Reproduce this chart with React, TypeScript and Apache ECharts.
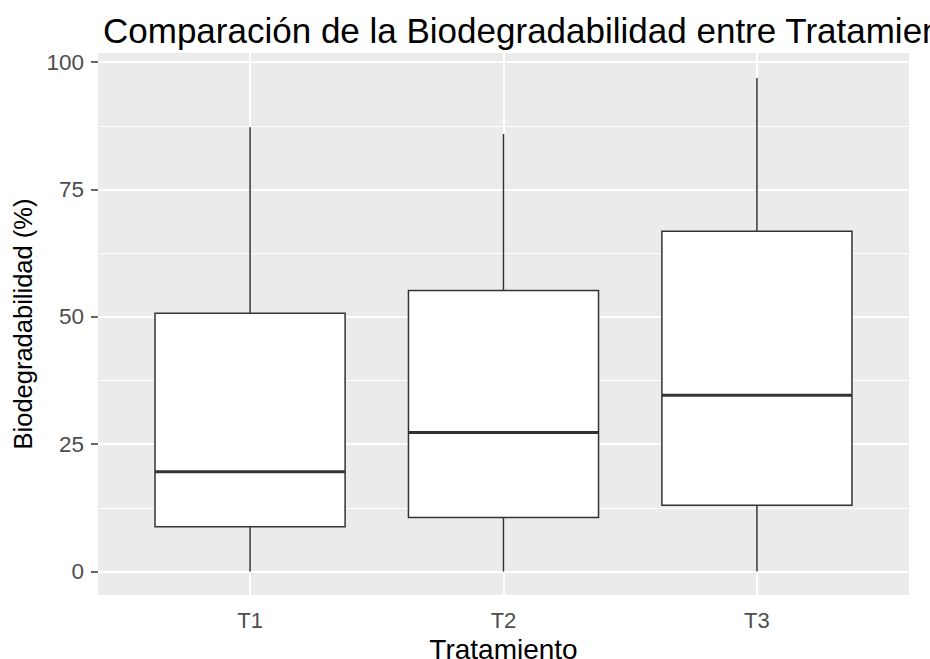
import React, { useEffect, useRef } from "react";
import * as echarts from "echarts";

const categories = ["T1", "T2", "T3"];
const categoryPositions = [1, 2, 3];
const whiskerLow = [0, 0, 0];
const q1 = [8.8, 10.6, 13.0];
const median = [19.6, 27.3, 34.6];
const q3 = [50.7, 55.2, 66.8];
const whiskerHigh = [87.2, 85.9, 96.9];
const yMajorTicks = [0, 25, 50, 75, 100];
const yMinorTicks = [12.5, 37.5, 62.5, 87.5];

const titleText = "Comparación de la Biodegradabilidad entre Tratamientos";
const xTitle = "Tratamiento";
const yTitle = "Biodegradabilidad (%)";

const FONT = "'Liberation Sans', Arial, sans-serif";

export default function App() {
  const ref = useRef<HTMLDivElement>(null);
  useEffect(() => {
    if (!ref.current) return;
    const chart = echarts.init(ref.current, null, { renderer: "svg" });
    const boxData = categories.map((_, i) => [
      categoryPositions[i],
      whiskerLow[i],
      q1[i],
      median[i],
      q3[i],
      whiskerHigh[i],
    ]);
    const stroke = "#333333";
    chart.setOption({
      animation: false,
      title: {
        text: titleText,
        left: 98,
        top: 8,
        textStyle: { fontFamily: FONT, fontSize: 35, fontWeight: "normal", color: "#000000" },
      },
      grid: {
        left: 98,
        right: 21,
        top: 53,
        bottom: 64,
        outerBoundsMode: "none",
        containLabel: false,
        show: true,
        backgroundColor: "#EBEBEB",
        borderWidth: 0,
      },
      xAxis: {
        type: "value",
        min: 0.4,
        max: 3.6,
        name: xTitle,
        nameLocation: "middle",
        nameGap: 35,
        nameTextStyle: { fontFamily: FONT, fontSize: 28, lineHeight: 28, color: "#000000" },
        axisLine: { show: false },
        splitLine: { show: false },
        axisTick: { show: true, customValues: categoryPositions, length: 7, lineStyle: { color: stroke, width: 1.5 } },
        axisLabel: {
          customValues: categoryPositions,
          margin: 14,
          fontFamily: FONT,
          fontSize: 22,
          color: "#4D4D4D",
          formatter: (v: number) => categories[Math.round(v) - 1] ?? "",
        },
      },
      yAxis: {
        type: "value",
        min: -4.6,
        max: 101.8,
        name: yTitle,
        nameLocation: "middle",
        nameGap: 58,
        nameTextStyle: { fontFamily: FONT, fontSize: 25.5, color: "#000000" },
        axisLine: { show: false },
        splitLine: { show: false },
        axisTick: { show: true, customValues: yMajorTicks, length: 7, lineStyle: { color: stroke, width: 1.5 } },
        axisLabel: {
          customValues: yMajorTicks,
          margin: 14,
          fontFamily: FONT,
          fontSize: 22.5,
          color: "#4D4D4D",
        },
      },
      series: [
        {
          type: "line",
          data: [],
          z: 1,
          silent: true,
          markLine: {
            silent: true,
            symbol: ["none", "none"],
            label: { show: false },
            animation: false,
            data: [
              ...yMinorTicks.map((v) => ({ yAxis: v, lineStyle: { color: "#FFFFFF", width: 1, type: "solid" } })),
              ...yMajorTicks.map((v) => ({ yAxis: v, lineStyle: { color: "#FFFFFF", width: 2, type: "solid" } })),
              ...categoryPositions.map((v) => ({ xAxis: v, lineStyle: { color: "#FFFFFF", width: 2, type: "solid" } })),
            ],
          },
        },
        {
          type: "custom",
          z: 5,
          data: boxData,
          encode: { x: 0, y: [1, 2, 3, 4, 5] },
          renderItem: (params: any, api: any) => {
            const x = api.value(0);
            const lo = api.value(1);
            const a = api.value(2);
            const m = api.value(3);
            const b = api.value(4);
            const hi = api.value(5);
            const half = api.size([0.75, 0])[0] / 2;
            const pLo = api.coord([x, lo]);
            const pA = api.coord([x, a]);
            const pM = api.coord([x, m]);
            const pB = api.coord([x, b]);
            const pHi = api.coord([x, hi]);
            const cx = pA[0];
            const lineStyle = { stroke, lineWidth: 1.5 };
            return {
              type: "group",
              children: [
                { type: "line", shape: { x1: cx, y1: pLo[1], x2: cx, y2: pA[1] }, style: lineStyle },
                { type: "line", shape: { x1: cx, y1: pB[1], x2: cx, y2: pHi[1] }, style: lineStyle },
                {
                  type: "rect",
                  shape: { x: cx - half, y: pB[1], width: half * 2, height: pA[1] - pB[1] },
                  style: { fill: "#FFFFFF", stroke, lineWidth: 1.5 },
                },
                {
                  type: "line",
                  shape: { x1: cx - half, y1: pM[1], x2: cx + half, y2: pM[1] },
                  style: { stroke, lineWidth: 3 },
                },
              ],
            };
          },
        },
      ],
    });
    return () => chart.dispose();
  }, []);
  return (
    <div
      ref={ref}
      style={{ position: "fixed", left: 0, top: 0, width: 930, height: 659, background: "#FFFFFF" }}
    />
  );
}
